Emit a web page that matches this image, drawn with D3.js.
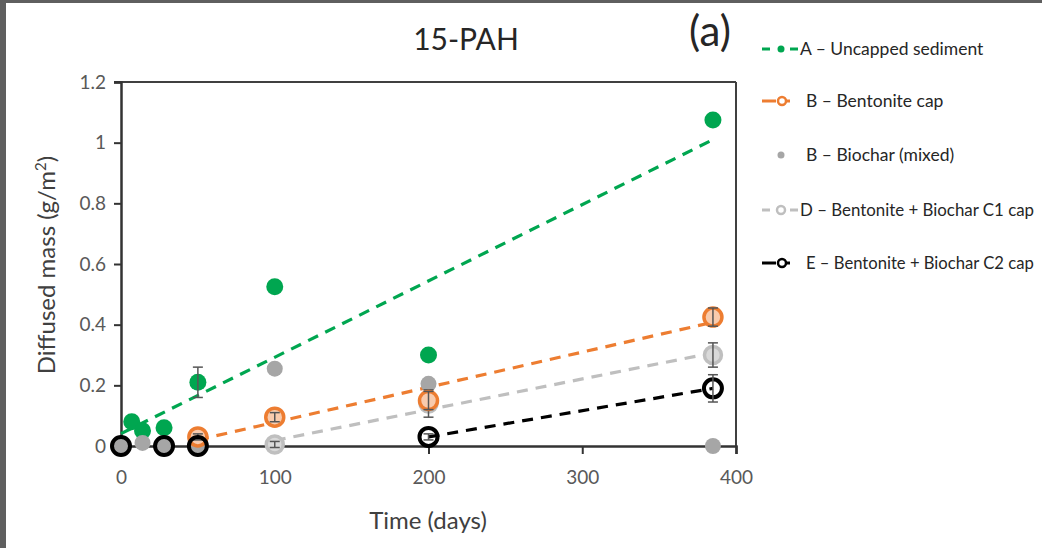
<!DOCTYPE html>
<html>
<head>
<meta charset="utf-8">
<script src="https://cdn.jsdelivr.net/npm/d3@7"></script>
<style>
  html, body { margin: 0; padding: 0; background: #5f5f5f; }
  #chart { position: absolute; left: 6px; top: 3px; }
  text { font-family: Lato, "Open Sans", sans-serif; }
</style>
</head>
<body>
<div id="chart"></div>
<script>
// values
var xTicks = [0, 100, 200, 300, 400];
var yTicks = [0, 0.2, 0.4, 0.6, 0.8, 1, 1.2];
var yTickLabels = ["0", "0.2", "0.4", "0.6", "0.8", "1", "1.2"];

var aDays = [0, 7, 14, 28, 50, 100, 200, 385];
var aMass = [0, 0.08, 0.05, 0.06, 0.21, 0.525, 0.30, 1.075];
var aErr  = [0, 0, 0, 0, 0.05, 0, 0, 0];

var bDays = [50, 100, 200, 385];
var bMass = [0.03, 0.095, 0.15, 0.425];
var bErr  = [0.01, 0.015, 0.03, 0.03];

var cDays = [0, 14, 28, 50, 100, 200, 385];
var cMass = [0, 0.01, 0, 0, 0.255, 0.205, 0];

var dDays = [100, 200, 385];
var dMass = [0.005, 0.14, 0.30];
var dErr  = [0.01, 0.045, 0.04];

var eDays = [0, 28, 50, 200, 385];
var eMass = [0, 0, 0, 0.03, 0.19];
var eErr  = [0, 0, 0, 0.01, 0.045];

var seriesNames = [
  "A \u2013 Uncapped sediment",
  "B \u2013 Bentonite cap",
  "B \u2013 Biochar (mixed)",
  "D \u2013 Bentonite + Biochar C1 cap",
  "E \u2013 Bentonite + Biochar C2 cap"
];
// first day used for each linear trendline (null = no trendline)
var fitFrom = [0, 50, null, 100, 200];

var width = 1036, height = 545;

var svg = d3.select("#chart").append("svg")
  .attr("width", width)
  .attr("height", height)
  .style("background", "#fff");

var x = d3.scaleLinear().domain([0, 400]).range([115, 730]);
var y = d3.scaleLinear().domain([0, 1.2]).range([443, 79]);

function zip(days, mass, err) {
  return days.map(function (d, i) {
    return { day: d, mass: mass[i], err: err ? err[i] : 0 };
  });
}

var series = [
  { pts: zip(aDays, aMass, aErr), line: "#00a650" },
  { pts: zip(bDays, bMass, bErr), line: "#ed7d31" },
  { pts: zip(cDays, cMass), line: null },
  { pts: zip(dDays, dMass, dErr), line: "#bfbfbf" },
  { pts: zip(eDays, eMass, eErr), line: "#000" }
];

function linFit(pts) {
  var mx = d3.mean(pts, function (p) { return p.day; });
  var my = d3.mean(pts, function (p) { return p.mass; });
  var sxy = d3.sum(pts, function (p) { return (p.day - mx) * (p.mass - my); });
  var sxx = d3.sum(pts, function (p) { return (p.day - mx) * (p.day - mx); });
  var slope = sxy / sxx;
  return { slope: slope, icpt: my - slope * mx };
}

// frame
svg.append("line")
  .attr("x1", x(0) - 7).attr("x2", x(400)).attr("y1", y(1.2)).attr("y2", y(1.2))
  .attr("stroke", "#404040").attr("stroke-width", 2);
svg.append("line")
  .attr("x1", x(400)).attr("x2", x(400)).attr("y1", y(1.2)).attr("y2", y(0))
  .attr("stroke", "#404040").attr("stroke-width", 2);

// axes
var yAxis = svg.append("g")
  .attr("transform", "translate(" + x(0) + ",0)")
  .call(d3.axisLeft(y).tickValues(yTicks).tickSize(7)
    .tickFormat(function (d, i) { return yTickLabels[i]; }));
var xAxis = svg.append("g")
  .attr("transform", "translate(0," + y(0) + ")")
  .call(d3.axisBottom(x).tickValues(xTicks).tickSize(8));

[xAxis, yAxis].forEach(function (ax) {
  ax.select(".domain").attr("stroke", "#333").attr("stroke-width", 2.5);
  ax.selectAll(".tick line").attr("stroke", "#333").attr("stroke-width", 2);
  ax.selectAll(".tick text")
    .attr("fill", "#595959")
    .style("font-size", "19px");
});
yAxis.selectAll(".tick text").attr("x", -15);
xAxis.selectAll(".tick text").attr("y", 25);

// trendlines
series.forEach(function (s, i) {
  if (fitFrom[i] === null) return;
  var used = s.pts.filter(function (p) { return p.day >= fitFrom[i]; });
  var f = linFit(used);
  var d0 = d3.min(used, function (p) { return p.day; });
  var d1 = d3.max(used, function (p) { return p.day; });
  svg.append("line")
    .attr("x1", x(d0)).attr("y1", y(f.icpt + f.slope * d0))
    .attr("x2", x(d1)).attr("y2", y(f.icpt + f.slope * d1))
    .attr("stroke", s.line)
    .attr("stroke-width", 3.2)
    .attr("stroke-dasharray", "11,8");
});

// markers
var markerStyle = [
  { r: 8.5, fill: "#00a650", stroke: "#00a650", sw: 0 },
  { r: 9, fill: "#f8cbad", stroke: "#ed7d31", sw: 3.5 },
  { r: 8, fill: "#a6a6a6", stroke: "#a6a6a6", sw: 0 },
  { r: 8.5, fill: "#d9d9d9", stroke: "#bfbfbf", sw: 3.5 },
  { r: 9, fill: "none", stroke: "#000", sw: 4 }
];
var drawOrder = [0, 2, 3, 1, 4];

drawOrder.forEach(function (i) {
  var s = series[i], m = markerStyle[i];
  var g = svg.append("g");
  g.selectAll("circle")
    .data(s.pts)
    .enter().append("circle")
    .attr("cx", function (p) { return x(p.day); })
    .attr("cy", function (p) { return y(p.mass); })
    .attr("r", m.r)
    .attr("fill", m.fill)
    .attr("stroke", m.stroke)
    .attr("stroke-width", m.sw);

  var eb = g.selectAll(".eb")
    .data(s.pts.filter(function (p) { return p.err > 0; }))
    .enter().append("g");
  eb.append("line")
    .attr("x1", function (p) { return x(p.day); })
    .attr("x2", function (p) { return x(p.day); })
    .attr("y1", function (p) { return y(p.mass - p.err); })
    .attr("y2", function (p) { return y(p.mass + p.err); })
    .attr("stroke", "#555").attr("stroke-width", 1.5);
  [-1, 1].forEach(function (sgn) {
    eb.append("line")
      .attr("x1", function (p) { return x(p.day) - 5; })
      .attr("x2", function (p) { return x(p.day) + 5; })
      .attr("y1", function (p) { return y(p.mass + sgn * p.err); })
      .attr("y2", function (p) { return y(p.mass + sgn * p.err); })
      .attr("stroke", "#555").attr("stroke-width", 1.5);
  });
});

// titles
svg.append("text")
  .attr("x", 460).attr("y", 47)
  .attr("text-anchor", "middle")
  .attr("fill", "#262626")
  .style("font-size", "30px")
  .text("15-PAH");
svg.append("text")
  .attr("x", 704).attr("y", 43)
  .attr("text-anchor", "middle")
  .attr("fill", "#262626")
  .style("font-size", "42px")
  .text("(a)");

svg.append("text")
  .attr("x", 422).attr("y", 526)
  .attr("text-anchor", "middle")
  .attr("fill", "#404040")
  .style("font-size", "24px")
  .text("Time (days)");

var yl = svg.append("text")
  .attr("transform", "translate(49,262) rotate(-90)")
  .attr("text-anchor", "middle")
  .attr("fill", "#404040")
  .style("font-size", "24px");
yl.append("tspan").text("Diffused mass (g/m");
yl.append("tspan").attr("dy", -9).style("font-size", "15px").text("2");
yl.append("tspan").attr("dy", 9).text(")");

// legend
var legY = [46, 98, 152, 207, 260];
var leg = svg.selectAll(".leg")
  .data(seriesNames)
  .enter().append("g")
  .attr("transform", function (d, i) { return "translate(756," + legY[i] + ")"; });

leg.each(function (d, i) {
  var g = d3.select(this), s = series[i], m = markerStyle[i];
  var dot = i === 0 || i === 2;
  if (s.line) {
    if (i === 0 || i === 3) {
      g.append("line").attr("x1", 0).attr("x2", 8)
        .attr("stroke", s.line).attr("stroke-width", 3);
      g.append("line").attr("x1", 28).attr("x2", 36)
        .attr("stroke", s.line).attr("stroke-width", 3);
    } else {
      g.append("line").attr("x1", 0).attr("x2", 14)
        .attr("stroke", s.line).attr("stroke-width", 3);
      g.append("line").attr("x1", 20).attr("x2", 28)
        .attr("stroke", s.line).attr("stroke-width", 3);
    }
  }
  g.append("circle")
    .attr("cx", i === 1 || i === 4 ? 20 : 19).attr("cy", 0)
    .attr("r", dot ? 3.5 : 4)
    .attr("fill", dot ? m.fill : "#fff")
    .attr("stroke", m.stroke)
    .attr("stroke-width", dot ? 0 : 2.5);
  var tx = i === 0 || i === 3 ? 38 : 44;
  var fs = 17.5;
  var t = g.append("text")
    .attr("x", tx).attr("y", 6)
    .attr("fill", "#262626")
    .style("font-size", fs + "px")
    .text(d);
  // shrink long labels so they stay inside the picture
  var room = width - 756 - tx - 8;
  var len = t.node().getComputedTextLength();
  if (len > room) t.style("font-size", (fs * room / len).toFixed(2) + "px");
});
</script>
</body>
</html>
